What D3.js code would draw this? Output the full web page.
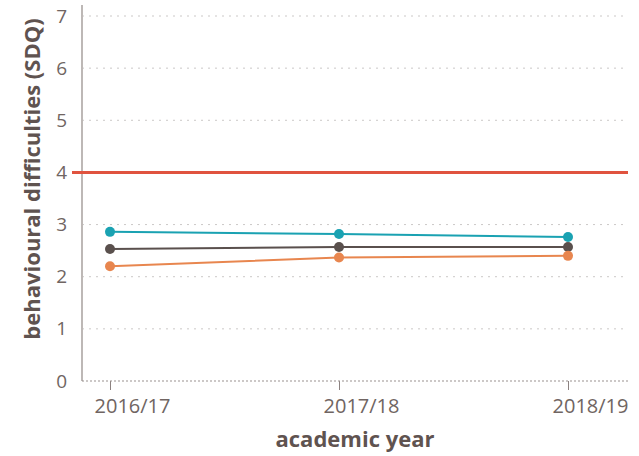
<!DOCTYPE html>
<html>
<head>
<meta charset="utf-8">
<script src="https://cdn.jsdelivr.net/npm/d3@7"></script>
<style>
  html, body { margin: 0; padding: 0; background: #fff; }
  svg { display: block; }
  text { font-family: "Open Sans", Lato, sans-serif; }
</style>
</head>
<body>
<svg id="chart" width="639" height="456"></svg>
<script>
// Academic years on the x axis
const years = ["2016/17", "2017/18", "2018/19"];
// Mean SDQ behavioural difficulties score per group
const seriesTeal = [2.86, 2.82, 2.76];
const seriesDark = [2.53, 2.57, 2.57];
const seriesOrange = [2.20, 2.37, 2.40];
// Threshold reference line
const threshold = 4;
const yTicks = [0, 1, 2, 3, 4, 5, 6, 7];

const series = [
  { name: "teal", values: seriesTeal, color: "#1aa2b2" },
  { name: "dark", values: seriesDark, color: "#5a504d" },
  { name: "orange", values: seriesOrange, color: "#e8864f" }
];

const svg = d3.select("#chart");
const margin = { left: 82, right: 11, top: 16, bottom: 75 };
const W = 639, H = 456;

const x = d3.scalePoint().domain(years).range([110, 568]);
const y = d3.scaleLinear().domain([0, 7]).range([H - margin.bottom, margin.top]);

const textColor = "#706562";
const titleColor = "#5f5350";

// Dotted horizontal gridlines
svg.append("g")
  .selectAll("line")
  .data(yTicks.filter(d => d > 0))
  .join("line")
  .attr("x1", margin.left)
  .attr("x2", W - margin.right - 3)
  .attr("y1", d => y(d))
  .attr("y2", d => y(d))
  .attr("stroke", "#cbc8c7")
  .attr("stroke-width", 1)
  .attr("stroke-dasharray", "2,5");

// Y axis
const yAxis = svg.append("g")
  .attr("transform", `translate(${margin.left},0)`)
  .call(d3.axisLeft(y).tickValues(yTicks).tickSize(0).tickPadding(15).tickFormat(d3.format("d")));
yAxis.select(".domain").remove();
yAxis.selectAll("text").attr("fill", textColor).attr("font-size", 19);
svg.append("line")
  .attr("x1", margin.left).attr("x2", margin.left)
  .attr("y1", 5).attr("y2", y(0))
  .attr("stroke", "#bdb8b6").attr("stroke-width", 2);

// X axis
const xAxis = svg.append("g")
  .attr("transform", `translate(0,${y(0)})`)
  .call(d3.axisBottom(x).tickSize(9).tickPadding(0));
xAxis.select(".domain").remove();
xAxis.selectAll("line").attr("stroke", "#8c8280");
xAxis.selectAll("text")
  .attr("fill", textColor)
  .attr("font-size", 20)
  .attr("dx", 22)
  .attr("y", 32)
  .attr("dy", 0);
svg.append("line")
  .attr("x1", margin.left).attr("x2", W - margin.right)
  .attr("y1", y(0)).attr("y2", y(0))
  .attr("stroke", "#9a918f").attr("stroke-width", 1.2)
  .attr("stroke-dasharray", "2,2");

// Threshold line
svg.append("line")
  .attr("x1", 72).attr("x2", W - margin.right)
  .attr("y1", y(threshold)).attr("y2", y(threshold))
  .attr("stroke", "#e0533f").attr("stroke-width", 3);

// Series lines and points
const line = d3.line().x((d, i) => x(years[i])).y(d => y(d));
const groups = svg.append("g").selectAll("g").data(series).join("g");
groups.append("path")
  .attr("d", d => line(d.values))
  .attr("fill", "none")
  .attr("stroke", d => d.color)
  .attr("stroke-width", 2);
groups.selectAll("circle")
  .data(d => d.values.map((v, i) => ({ v, i, color: d.color })))
  .join("circle")
  .attr("cx", d => x(years[d.i]))
  .attr("cy", d => y(d.v))
  .attr("r", 5)
  .attr("fill", d => d.color);

// Axis titles
svg.append("text")
  .attr("transform", `translate(40,179) rotate(-90)`)
  .attr("text-anchor", "middle")
  .attr("fill", titleColor)
  .attr("font-size", 22)
  .attr("font-weight", "bold")
  .text("behavioural difficulties (SDQ)");

svg.append("text")
  .attr("x", 355)
  .attr("y", 447)
  .attr("text-anchor", "middle")
  .attr("fill", titleColor)
  .attr("font-size", 22)
  .attr("font-weight", "bold")
  .text("academic year");
</script>
</body>
</html>
